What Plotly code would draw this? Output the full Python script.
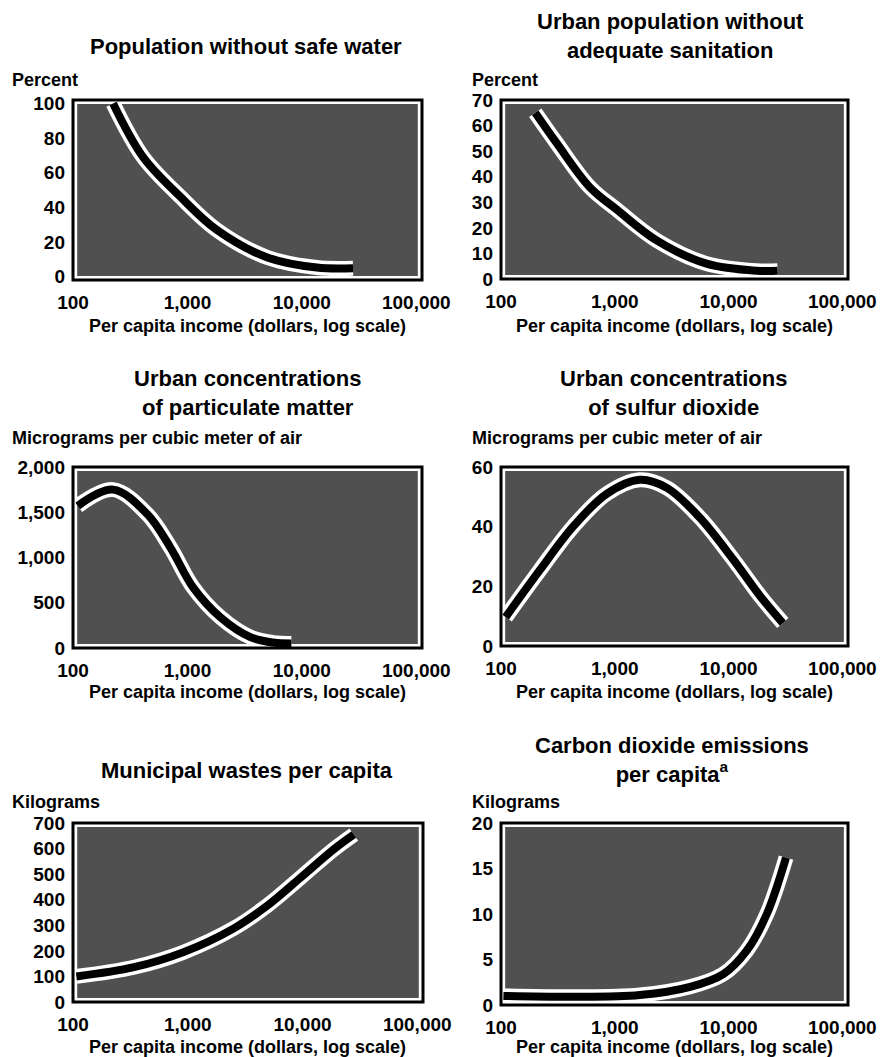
import plotly.graph_objects as go

# ---------------- data ----------------
income_ticks = [100, 1000, 10000, 100000]
income_tick_labels = ["100", "1,000", "10,000", "100,000"]

water_income = [224, 410, 870, 1800, 5000, 13500, 28000]
water_pct = [100, 69, 46, 27, 11, 5.2, 4.8]

sanit_income = [200, 310, 600, 1050, 2350, 6400, 17800, 27000]
sanit_pct = [65, 53, 36, 27, 15, 6, 3.2, 3.2]

partic_income = [110, 224, 445, 710, 1120, 1940, 3550, 5600, 8100]
partic_ugm3 = [1570, 1750, 1480, 1110, 670, 340, 120, 60, 50]

sulfur_income = [110, 220, 430, 850, 1660, 2870, 5600, 11000, 19000, 30000]
sulfur_ugm3 = [9.7, 25.5, 40, 51, 55.7, 53, 43, 29, 16.7, 7.7]

waste_income = [107, 340, 920, 2500, 4900, 9600, 18700, 28000]
waste_kg = [100, 136, 195, 287, 376, 486, 597, 655]

co2_income = [105, 430, 1660, 4600, 9000, 14500, 21700, 32000]
co2_kg = [1.0, 0.9, 1.1, 2.0, 3.4, 6.0, 10, 16.2]

water_yticks = [0, 20, 40, 60, 80, 100]
sanit_yticks = [0, 10, 20, 30, 40, 50, 60, 70]
partic_yticks = [0, 500, 1000, 1500, 2000]
sulfur_yticks = [0, 20, 40, 60]
waste_yticks = [0, 100, 200, 300, 400, 500, 600, 700]
co2_yticks = [0, 5, 10, 15, 20]

titles = [
    "Population without safe water",
    "Urban population without<br>adequate sanitation",
    "Urban concentrations<br>of particulate matter",
    "Urban concentrations<br>of sulfur dioxide",
    "Municipal wastes per capita",
    "Carbon dioxide emissions<br>per capita<sup>a</sup>",
]
units = ["Percent", "Percent", "Micrograms per cubic meter of air",
         "Micrograms per cubic meter of air", "Kilograms", "Kilograms"]
xtitle = "Per capita income (dollars, log scale)"

# ---------------- layout geometry (pixels of the 888x1057 window) ----------------
OFF = 8                      # default page (body) margin
W, H = 888 - OFF, 1057 - OFF
FONT = "Liberation Sans, Arial, Helvetica, sans-serif"

def px_x(a):
    return (a - OFF) / W

def px_y(a):
    return 1 - (a - OFF) / H

panels = [
    dict(x=water_income, y=water_pct, yt=water_yticks, yr=[-2, 102],
         box=(73, 422, 100, 280), tc=246, ty=46, uy=80, ux=10, xty=326),
    dict(x=sanit_income, y=sanit_pct, yt=sanit_yticks, yr=[0, 70],
         box=(501, 848, 100, 279), tc=670, ty=36, uy=80, ux=470, xty=326),
    dict(x=partic_income, y=partic_ugm3, yt=partic_yticks, yr=[0, 2000],
         box=(73, 422, 467, 648), tc=247, ty=393, uy=438, ux=10, xty=692),
    dict(x=sulfur_income, y=sulfur_ugm3, yt=sulfur_yticks, yr=[0, 60],
         box=(501, 848, 467, 646), tc=673, ty=393, uy=438, ux=470, xty=692),
    dict(x=waste_income, y=waste_kg, yt=waste_yticks, yr=[0, 700],
         box=(73, 423, 823, 1002), tc=247, ty=770, uy=802, ux=10, xty=1047),
    dict(x=co2_income, y=co2_kg, yt=co2_yticks, yr=[0, 20],
         box=(501, 848, 823, 1005), tc=672, ty=760, uy=802, ux=470, xty=1047),
]

fig = go.Figure()
layout = dict(width=W, height=H,
              margin=dict(l=0, r=0, t=0, b=0, pad=0, autoexpand=False),
              paper_bgcolor="white", plot_bgcolor="white", showlegend=False)
shapes = []
annotations = []

TICKFONT = dict(family=FONT, size=19, color="black", weight="bold")

for i, p in enumerate(panels, start=1):
    sfx = "" if i == 1 else str(i)
    xa, ya = "x" + sfx, "y" + sfx
    x0, x1, y0, y1 = p["box"]
    layout["xaxis" + sfx] = dict(
        type="log", range=[2, 5.05], domain=[px_x(x0), px_x(x1)], anchor=ya,
        tickvals=income_ticks, ticktext=income_tick_labels, automargin=False,
        showgrid=False, zeroline=False, showline=False, ticks="",
        ticklabelstandoff=9, tickfont=TICKFONT,
    )
    layout["yaxis" + sfx] = dict(
        range=p["yr"], domain=[px_y(y1), px_y(y0)], anchor=xa, automargin=False,
        tickvals=p["yt"], tickformat=",",
        showgrid=False, zeroline=False, showline=False, ticks="",
        ticklabelstandoff=7, tickfont=TICKFONT,
    )
    # stippled (grey) interior, inset from the frame
    shapes.append(dict(type="rect", xref=xa + " domain", yref=ya + " domain",
                       x0=0.012, x1=0.988, y0=0.022, y1=0.978,
                       fillcolor="#505050", line=dict(width=0), layer="below"))
    # black frame
    shapes.append(dict(type="rect", xref=xa + " domain", yref=ya + " domain",
                       x0=0, x1=1, y0=0, y1=1,
                       line=dict(color="black", width=3), layer="above"))
    # curve: white halo then black line
    fig.add_trace(go.Scatter(x=p["x"], y=p["y"], xaxis=xa, yaxis=ya, mode="lines",
                             line=dict(color="white", width=15, shape="spline"),
                             hoverinfo="skip"))
    fig.add_trace(go.Scatter(x=p["x"], y=p["y"], xaxis=xa, yaxis=ya, mode="lines",
                             line=dict(color="black", width=8, shape="spline")))
    # title
    annotations.append(dict(text=titles[i - 1], x=px_x(p["tc"]), y=px_y(p["ty"]),
                            xref="paper", yref="paper", xanchor="center",
                            yanchor="middle", showarrow=False,
                            font=dict(family=FONT, size=22, color="black",
                                      weight="bold")))
    # unit label
    annotations.append(dict(text=units[i - 1], x=px_x(p["ux"]), y=px_y(p["uy"]),
                            xref="paper", yref="paper", xanchor="left",
                            yanchor="middle", showarrow=False,
                            font=dict(family=FONT, size=18, color="black",
                                      weight="bold")))
    # x axis title
    annotations.append(dict(text=xtitle, x=px_x((x0 + x1) / 2), y=px_y(p["xty"]),
                            xref="paper", yref="paper", xanchor="center",
                            yanchor="middle", showarrow=False,
                            font=dict(family=FONT, size=18, color="black",
                                      weight="bold")))

layout["shapes"] = shapes
layout["annotations"] = annotations
fig.update_layout(**layout)
fig.write_html("out.html")
